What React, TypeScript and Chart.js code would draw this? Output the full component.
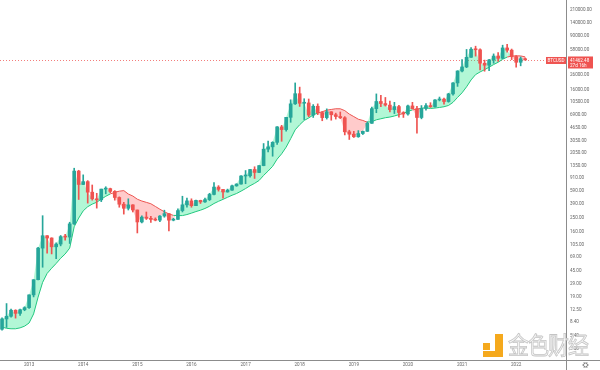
import React, { useEffect, useRef } from 'react';
import { Chart, registerables } from 'chart.js';

Chart.register(...registerables);

// Monthly BTCUSD candles, Jul 2012 (index 0) .. Mar 2022 (index 116)
const opens = [
  6.7, 9.35, 10.2, 12.4, 11.2, 12.6,
  13.5, 20.4, 33.4, 93, 139, 129, 97, 106, 135, 133, 204, 1130,
  732, 803, 570, 460, 445, 630, 640, 585, 480, 386, 338, 378,
  320, 217, 254, 244, 236, 230, 263, 284, 230, 236, 314, 378,
  430, 368, 437, 416, 448, 530, 673, 624, 574, 609, 700, 742,
  964, 970, 1190, 1080, 1350, 2300, 2480, 2870, 4740, 4340, 6460, 10000,
  13900, 10200, 10300, 6940, 9250, 7500, 6400, 7730, 7020, 6630, 6370, 4040,
  3740, 3440, 3820, 4100, 5320, 8560, 10800, 10100, 9600, 8300, 9150, 7550,
  7200, 9350, 8550, 6420, 8630, 9450, 9140, 11350, 11650, 10780, 13800, 19700,
  29000, 33100, 45200, 58800, 57750, 37300, 35040, 41500, 47100, 43800, 61300, 57000,
  46300, 38500, 43180,
];
const highs = [
  9.7, 15.4, 12.9, 12.6, 12.9, 13.9,
  20.4, 33.4, 95, 266, 140, 130, 110, 140, 145, 215, 1240, 1160,
  1000, 830, 720, 550, 630, 680, 650, 600, 490, 410, 460, 380,
  320, 265, 300, 260, 248, 268, 318, 286, 245, 333, 500, 470,
  460, 440, 440, 470, 550, 780, 705, 625, 630, 720, 750, 980,
  1150, 1200, 1300, 1350, 2760, 2980, 2930, 4770, 4980, 6470, 11400, 19700,
  17200, 11800, 11700, 9760, 9990, 7780, 8500, 7760, 7400, 7680, 6600, 4250,
  4100, 4200, 4140, 5600, 9000, 13800, 13200, 12300, 10900, 10500, 9500, 7750,
  9580, 10500, 9200, 9460, 10070, 10380, 11440, 12470, 12060, 14100, 19900, 29300,
  41950, 58350, 61800, 64850, 59600, 41300, 42400, 50500, 52900, 67000, 69000, 59100,
  47990, 45800, 44400,
];
const lows = [
  6.5, 7.1, 9.9, 9.6, 10.5, 12.2,
  13.2, 19.1, 33.1, 50, 79, 77, 66, 100, 120, 108, 200, 450,
  728, 400, 440, 340, 420, 540, 560, 440, 350, 280, 320, 300,
  152, 210, 235, 214, 225, 220, 253, 162, 225, 235, 300, 350,
  350, 367, 395, 410, 435, 520, 590, 470, 570, 604, 690, 740,
  750, 930, 890, 1070, 1340, 2100, 1830, 2680, 2970, 4110, 5500, 9800,
  9200, 6000, 6600, 6430, 7050, 5780, 6100, 5880, 6100, 6200, 3650, 3150,
  3360, 3380, 3700, 4080, 5300, 7500, 9100, 9300, 7700, 7300, 6500, 6430,
  6900, 8500, 3850, 6150, 8120, 8900, 8980, 10990, 9880, 10530, 13200, 17600,
  28100, 32300, 45000, 47000, 30000, 28800, 29300, 37300, 39600, 43300, 53300, 42000,
  32900, 34300, 41400,
];
const closes = [
  9.35, 10.2, 12.4, 11.2, 12.6, 13.5,
  20.4, 33.4, 93, 139, 129, 97, 106, 135, 133, 204, 1130, 732,
  803, 570, 460, 445, 630, 640, 585, 480, 386, 338, 378, 320,
  217, 254, 244, 236, 230, 263, 284, 230, 236, 314, 378, 430,
  368, 437, 416, 448, 530, 673, 624, 574, 609, 700, 742, 964,
  970, 1190, 1080, 1350, 2300, 2480, 2870, 4740, 4340, 6460, 10000, 13900,
  10200, 10300, 6940, 9250, 7500, 6400, 7730, 7020, 6630, 6370, 4040, 3740,
  3440, 3820, 4100, 5320, 8560, 10800, 10100, 9600, 8300, 9150, 7550, 7200,
  9350, 8550, 6420, 8630, 9450, 9140, 11350, 11650, 10780, 13800, 19700, 29000,
  33100, 45200, 58800, 57750, 37300, 35040, 41500, 47100, 43800, 61300, 57000, 46300,
  38500, 43180, 41462.48,
];
// Moving average line
const movingAvg = [
  7.2, 6.9, 6.8, 6.8, 7.0, 7.4,
  8.2, 11, 19, 30.6, 40.9, 48.4, 56.5, 66.9, 76.9, 93, 186, 246,
  311, 356, 387, 412, 454, 499, 539, 568, 589, 600, 537, 503,
  454, 428, 410, 392, 359, 328, 302, 282, 269, 267, 267, 276,
  289, 304, 318, 336, 361, 395, 424, 452, 483, 516, 546, 590,
  641, 703, 759, 834, 981, 1132, 1319, 1666, 1977, 2457, 3229, 4307,
  5076, 5835, 6323, 6982, 7415, 7742, 8147, 8337, 8528, 8520, 8023, 7177,
  6613, 6073, 5837, 5509, 5598, 5964, 6162, 6377, 6516, 6748, 7040, 7328,
  7821, 8215, 8408, 8684, 8758, 8620, 8724, 8895, 9102, 9489, 10502, 12318,
  14298, 17352, 21717, 25810, 28131, 30289, 32802, 35756, 38508, 42466, 45574, 47016,
  47466, 47298, 45853,
];
const yearLabels = ['2013', '2014', '2015', '2016', '2017', '2018', '2019', '2020', '2021', '2022'];
const yearTickIndex = [6, 18, 30, 42, 54, 66, 78, 90, 102, 114];
const yTickValues = [
  210000, 140000, 90000, 58000, 38000, 26000, 16000, 10500, 6900, 4650, 3050, 2050,
  1350, 910, 590, 390, 250, 160, 105, 69, 45, 29, 19, 12.5, 8.4, 5.4, 3.5,
];
const symbol = 'BTCUSD';
const lastPrice = 41462.48;
const countdown = '27d 16h';

const UP = '#26a69a';
const DOWN = '#ef5350';
const FONT = 'Roboto, "DejaVu Sans", sans-serif';

export default function App() {
  const ref = useRef<HTMLCanvasElement>(null);

  useEffect(() => {
    if (!ref.current) return;
    const idx = closes.map((_, i) => i);
    const candleColors = idx.map((i) => (closes[i] >= opens[i] ? UP : DOWN));

    const overlay = {
      id: 'overlay',
      beforeDatasetsDraw(chart: any) {
        const { ctx, chartArea, scales } = chart;
        const y = Math.round(scales.y.getPixelForValue(lastPrice)) + 0.5;
        ctx.save();
        ctx.strokeStyle = 'rgba(239,83,80,0.75)';
        ctx.lineWidth = 1;
        ctx.setLineDash([1, 2]);
        ctx.beginPath();
        ctx.moveTo(chartArea.left, y);
        ctx.lineTo(chartArea.right, y);
        ctx.stroke();
        ctx.restore();
      },
      afterDraw(chart: any) {
        const { ctx, chartArea, scales, width, height } = chart;
        const y = scales.y.getPixelForValue(lastPrice);
        ctx.save();
        ctx.strokeStyle = '#8c8c8c';
        ctx.lineWidth = 1;
        ctx.beginPath();
        ctx.moveTo(0, chartArea.bottom + 0.5);
        ctx.lineTo(width, chartArea.bottom + 0.5);
        ctx.moveTo(chartArea.right + 0.5, 0);
        ctx.lineTo(chartArea.right + 0.5, height);
        ctx.stroke();
        ctx.fillStyle = DOWN;
        ctx.fillRect(chartArea.right - 20, y - 3, 20, 7);
        ctx.fillStyle = '#ffffff';
        ctx.font = `4.6px ${FONT}`;
        ctx.textAlign = 'center';
        ctx.textBaseline = 'middle';
        ctx.fillText(symbol, chartArea.right - 10, y + 0.5);
        ctx.fillStyle = DOWN;
        ctx.fillRect(chartArea.right + 2, y - 3.5, 25, 12);
        ctx.fillStyle = '#ffffff';
        ctx.textAlign = 'left';
        ctx.fillText(lastPrice.toFixed(2), chartArea.right + 4, y + 0.5);
        ctx.fillText(countdown, chartArea.right + 4, y + 5.5);
        const gx = chartArea.right + 19.5;
        const gy = chartArea.bottom + 5;
        ctx.strokeStyle = '#666';
        ctx.lineWidth = 0.8;
        ctx.beginPath();
        ctx.arc(gx, gy, 2, 0, Math.PI * 2);
        ctx.stroke();
        ctx.beginPath();
        for (let k = 0; k < 6; k++) {
          const a = (k * Math.PI) / 3;
          ctx.moveTo(gx + Math.cos(a) * 2, gy + Math.sin(a) * 2);
          ctx.lineTo(gx + Math.cos(a) * 3.2, gy + Math.sin(a) * 3.2);
        }
        ctx.stroke();
        ctx.restore();
      },
    };

    const chart = new Chart(ref.current, {
      type: 'bar',
      data: {
        datasets: [
          {
            type: 'line',
            label: 'close',
            data: idx.map((i) => ({ x: i, y: closes[i] })),
            borderWidth: 0,
            borderColor: 'rgba(0,0,0,0)',
            pointRadius: 0,
            fill: { target: 1, above: 'rgba(0,230,118,0.3)', below: 'rgba(255,82,82,0.3)' },
            order: 5,
          } as any,
          {
            type: 'line',
            label: 'ma',
            data: idx.map((i) => ({ x: i, y: movingAvg[i] })),
            borderWidth: 1,
            borderColor: '#1ec97f',
            pointRadius: 0,
            fill: false,
            segment: {
              borderColor: (c: any) =>
                closes[c.p1DataIndex] >= movingAvg[c.p1DataIndex] ? '#1ec97f' : '#ef5350',
            },
            order: 4,
          } as any,
          {
            label: 'wick',
            data: idx.map((i) => ({ x: i, y: [lows[i], highs[i]] })),
            backgroundColor: candleColors,
            barThickness: 1,
            grouped: false,
            borderWidth: 0,
            order: 2,
          } as any,
          {
            label: 'body',
            data: idx.map((i) => ({ x: i, y: [opens[i], closes[i]] })),
            backgroundColor: candleColors,
            barThickness: 3,
            grouped: false,
            minBarLength: 1,
            borderWidth: 0,
            order: 1,
          } as any,
        ],
      },
      options: {
        animation: false,
        responsive: false,
        maintainAspectRatio: false,
        layout: { padding: 0 },
        plugins: { legend: { display: false }, tooltip: { enabled: false } },
        scales: {
          x: {
            type: 'linear',
            min: -0.45,
            max: 125.05,
            offset: false,
            grid: { display: false, drawTicks: false },
            border: { display: false },
            afterBuildTicks: (s: any) => {
              s.ticks = yearTickIndex.map((v) => ({ value: v }));
            },
            afterFit: (s: any) => {
              s.height = 10;
              s.paddingLeft = 0;
              s.paddingRight = 0;
            },
            ticks: {
              autoSkip: false,
              maxRotation: 0,
              padding: 2,
              color: '#666',
              font: { size: 4.6, family: FONT },
              callback: (v: any) => {
                const k = yearTickIndex.indexOf(Number(v));
                return k >= 0 ? yearLabels[k] : '';
              },
            },
          },
          y: {
            type: 'logarithmic',
            position: 'right',
            min: 2.47,
            max: 290000,
            grid: { display: false, drawTicks: false },
            border: { display: false },
            afterBuildTicks: (s: any) => {
              s.ticks = yTickValues.map((v) => ({ value: v }));
            },
            afterFit: (s: any) => {
              s.width = 34;
              s.paddingTop = 0;
              s.paddingBottom = 0;
            },
            ticks: {
              autoSkip: false,
              padding: 4,
              color: '#666',
              font: { size: 4.6, family: FONT },
              callback: (v: any) => Number(v).toFixed(2),
            },
          },
        },
      },
      plugins: [overlay],
    } as any);
    return () => chart.destroy();
  }, []);

  const orange = '#f5a91d';
  return (
    <div style={{ position: 'fixed', left: 0, top: 0, width: 600, height: 370, background: '#fff' }}>
      <canvas ref={ref} width={600} height={370} style={{ display: 'block' }} />
      <div style={{ position: 'absolute', left: 483, top: 343, width: 7, height: 7, background: orange }} />
      <div style={{ position: 'absolute', left: 495, top: 334, width: 8, height: 23, background: orange }} />
      <div style={{ position: 'absolute', left: 483, top: 351, width: 20, height: 6, background: orange }} />
      <div
        style={{
          position: 'absolute',
          left: 508,
          top: 326,
          fontFamily: '"Noto Sans CJK SC", sans-serif',
          fontSize: 21,
          letterSpacing: -1,
          color: 'rgba(245,245,245,0.85)',
          WebkitTextStroke: '0.7px #c4c4c4',
          transform: 'scaleY(1.15)',
          transformOrigin: 'left top',
          whiteSpace: 'nowrap',
        }}
      >
        金色财经
      </div>
    </div>
  );
}
